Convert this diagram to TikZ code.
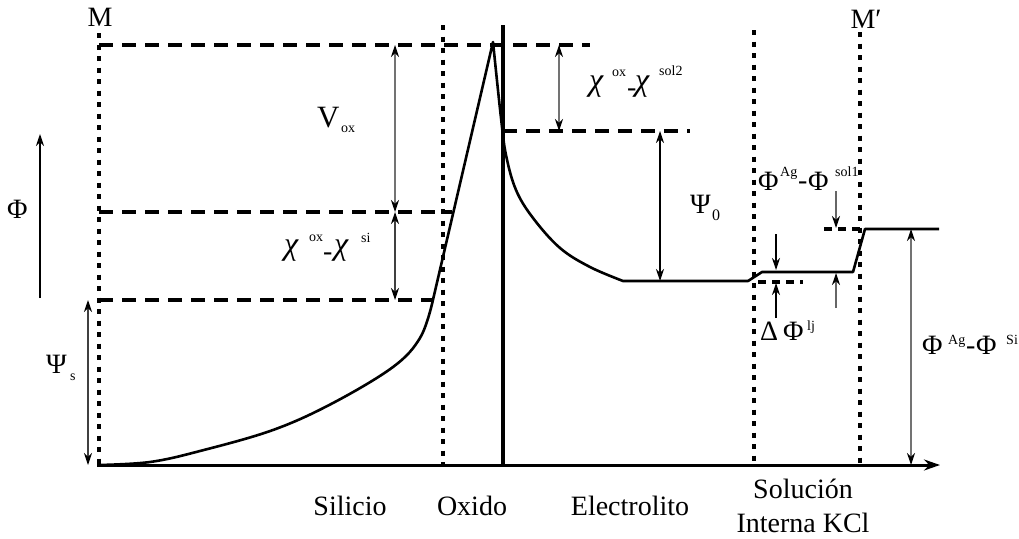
\documentclass[tikz,border=0pt]{standalone}
\usepackage{fontspec}
\setmainfont{Liberation Serif}
\usetikzlibrary{arrows.meta}
\begin{document}
\begin{tikzpicture}[x=1pt,y=-1pt,
  dotline/.style={line width=3.4pt, dash pattern=on 5pt off 6.5pt},
  dashline/.style={line width=3.2pt, dash pattern=on 14pt off 9pt},
  shortdash/.style={line width=3.2pt, dash pattern=on 8pt off 6pt},
  curve/.style={line width=2.6pt, line join=round},
  dimline/.style={line width=1.1pt, draw=black!55,
    {Stealth[length=12pt,width=8pt,black]}-{Stealth[length=12pt,width=8pt,black]}},
  ptr/.style={line width=1.1pt, draw=black!60, -{Stealth[length=12pt,width=8pt,black]}},
  big/.style={font=\fontsize{28}{30}\selectfont, inner sep=0pt, anchor=base west},
  chi/.style={font=\fontsize{32}{34}\selectfont\itshape, inner sep=0pt, anchor=base west},
  sml/.style={font=\fontsize{14}{15}\selectfont, inner sep=0pt, anchor=base west},
  word/.style={font=\fontsize{28}{30}\selectfont, inner sep=0pt, anchor=base},
]
\path[use as bounding box] (0,0) rectangle (1019,538);

% key coordinates
\coordinate (o) at (97,465);
\coordinate (xend) at (940,465);
\coordinate (d1t) at (99,33);   \coordinate (d1b) at (99,465);
\coordinate (d2t) at (443,25);  \coordinate (d2b) at (443,465);
\coordinate (st) at (503,25);   \coordinate (sb) at (503,466);
\coordinate (d3t) at (754,30);  \coordinate (d3b) at (754,465);
\coordinate (d4t) at (860,32);  \coordinate (d4b) at (860,465);

% axis
\draw[line width=3pt, -{Stealth[length=16pt,width=11pt]}] (o) -- (xend);
% vertical separators
\draw[dotline] (d1t) -- (d1b);
\draw[dotline] (d2t) -- (d2b);
\draw[dotline] (d3t) -- (d3b);
\draw[dotline] (d4t) -- (d4b);
\draw[line width=3.4pt] (st) -- (sb);

% dashed levels
\coordinate (h1a) at (99,45);   \coordinate (h1b) at (590,45);
\coordinate (h2a) at (99,212);  \coordinate (h2b) at (452,212);
\coordinate (h3a) at (99,300);  \coordinate (h3b) at (434,300);
\coordinate (h4a) at (503,131); \coordinate (h4b) at (690,131);
\coordinate (h5a) at (824,229); \coordinate (h5b) at (860,229);
\coordinate (h6a) at (758,282); \coordinate (h6b) at (803,282);
\draw[dashline] (h1a) -- (h1b);
\draw[dashline] (h2a) -- (h2b);
\draw[dashline] (h3a) -- (h3b);
\draw[dashline] (h4a) -- (h4b);
\draw[shortdash] (h5a) -- (h5b);
\draw[shortdash] (h6a) -- (h6b);

% potential curve
\draw[curve] plot[smooth, tension=0.6] coordinates {(99,465) (150,462) (200,451) (273,430) (333,403) (393,367) (420,338) (432,304)}
  -- (493,42)
  -- plot[smooth, tension=0.6] coordinates {(493,42) (501,118) (506,155) (516,190) (533,218) (560,248) (590,267) (623,281)}
  -- (748,281) -- (762,272) -- (853,272) -- (865,229) -- (939,229);

% dimension arrows
\coordinate (a1t) at (395,45);  \coordinate (a1b) at (395,212);
\coordinate (a2t) at (395,212); \coordinate (a2b) at (395,300);
\coordinate (a3t) at (559,45);  \coordinate (a3b) at (559,131);
\coordinate (a4t) at (660,131); \coordinate (a4b) at (660,281);
\coordinate (a5t) at (88,300);  \coordinate (a5b) at (88,465);
\coordinate (a6t) at (911,229); \coordinate (a6b) at (911,465);
\draw[dimline] (a1t) -- (a1b);
\draw[dimline, draw=black!75] (a2t) -- (a2b);
\draw[dimline] (a3t) -- (a3b);
\draw[dimline, draw=black] (a4t) -- (a4b);
\draw[dimline, draw=black!75] (a5t) -- (a5b);
\draw[dimline] (a6t) -- (a6b);

% Phi axis arrow
\coordinate (phb) at (40,298); \coordinate (pht) at (40,134);
\draw[line width=1.1pt, -{Stealth[length=12pt,width=8pt]}] (phb) -- (pht);

% small pointer arrows
\coordinate (p1s) at (776,234); \coordinate (p1e) at (776,270);
\coordinate (p2s) at (776,318); \coordinate (p2e) at (776,283);
\coordinate (p3s) at (836,308); \coordinate (p3e) at (836,273);
\coordinate (p4s) at (836,191); \coordinate (p4e) at (836,228);
\draw[ptr, draw=black] (p1s) -- (p1e);
\draw[ptr, draw=black] (p2s) -- (p2e);
\draw[ptr] (p3s) -- (p3e);
\draw[ptr] (p4s) -- (p4e);

% labels
\node[word] (M) at (100,27) {M};
\node[word] (Mp) at (866,28) {M′};
\node[big] (phiax) at (7,218) {Φ};

\node[big, font=\fontsize{31}{33}\selectfont] (vox) at (317,127) {V};
\node[sml] (voxs) at (341,132) {ox};

\node[chi] (cs1) at (284,254) {χ};
\node[sml] (cs1s) at (309,241) {ox};
\node[big] (cs1d) at (323,260) {-};
\node[chi] (cs2) at (334,254) {χ};
\node[sml] (cs2s) at (361,242) {si};

\node[chi] (co1) at (589,90) {χ};
\node[sml] (co1s) at (612,76) {ox};
\node[big] (co1d) at (627,96) {-};
\node[chi] (co2) at (635,90) {χ};
\node[sml] (co2s) at (659,75) {sol2};

\node[big] (psi0) at (690,213) {Ψ};
\node[sml, font=\fontsize{16}{17}\selectfont] (psi0s) at (712,220) {0};

\node[big] (psis) at (46,373) {Ψ};
\node[sml] (psiss) at (70,380) {s};

\node[big] (pa1) at (758,190) {Φ};
\node[sml] (pa1s) at (780,176) {Ag};
\node[big] (pa1d) at (798,189) {-};
\node[big] (pa2) at (808,190) {Φ};
\node[sml] (pa2s) at (835,176) {sol1};

\node[big] (dlt) at (760,340) {Δ};
\node[big] (dphi) at (783,340) {Φ};
\node[sml] (dphis) at (807,330) {lj};

\node[big] (pb1) at (922,354) {Φ};
\node[sml] (pb1s) at (948,344) {Ag};
\node[big] (pb1d) at (966,354) {-};
\node[big] (pb2) at (976,354) {Φ};
\node[sml] (pb2s) at (1006,344) {Si};

\node[word] (sil) at (350,515) {Silicio};
\node[word] (oxi) at (472,515) {Oxido};
\node[word] (ele) at (630,515) {Electrolito};
\node[word] (sol) at (803,498) {Solución};
\node[word] (kcl) at (803,532) {Interna KCl};
\end{tikzpicture}
\end{document}
